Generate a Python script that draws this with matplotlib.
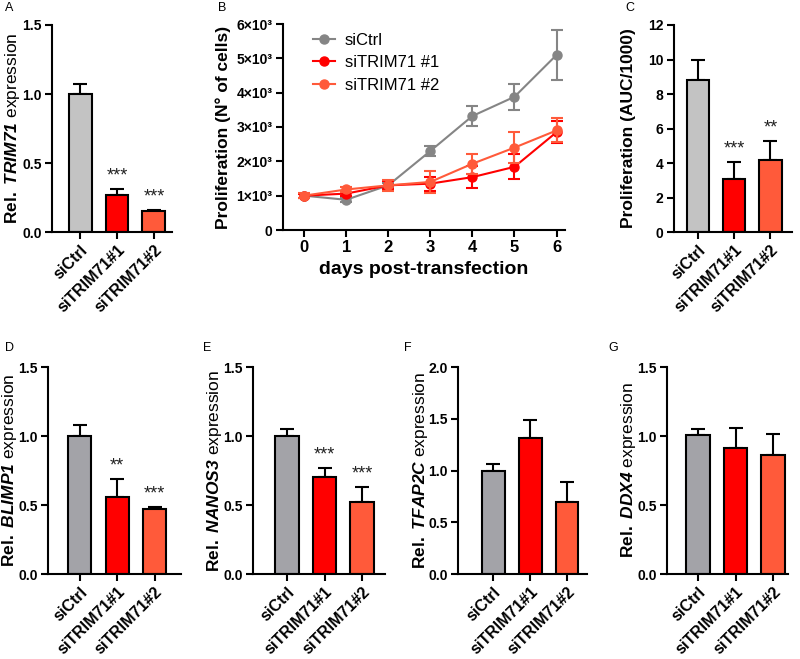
import matplotlib
matplotlib.use("Agg")
import matplotlib.pyplot as plt
import numpy as np

plt.rcParams['font.family'] = ['Liberation Sans', 'DejaVu Sans']
plt.rcParams['mathtext.fontset'] = 'custom'
plt.rcParams['mathtext.rm'] = 'Liberation Sans:italic:bold'
plt.rcParams['mathtext.it'] = 'Liberation Sans:italic:bold'
plt.rcParams['mathtext.bf'] = 'Liberation Sans:bold'

# ---------------- data ----------------
groups = ["siCtrl", "siTRIM71#1", "siTRIM71#2"]

trim71_mean = [1.00, 0.27, 0.15]
trim71_err = [0.07, 0.04, 0.01]
trim71_sig = ["", "***", "***"]

days = [0, 1, 2, 3, 4, 5, 6]
prolif_ctrl = [1000, 880, 1300, 2300, 3320, 3880, 5100]
prolif_ctrl_err = [60, 50, 80, 150, 280, 380, 720]
prolif_si1 = [1000, 1060, 1300, 1350, 1540, 1840, 2850]
prolif_si1_err = [60, 60, 120, 200, 320, 360, 330]
prolif_si2 = [1000, 1180, 1300, 1400, 1930, 2400, 2900]
prolif_si2_err = [80, 60, 150, 310, 290, 460, 350]
series_names = ["siCtrl", "siTRIM71 #1", "siTRIM71 #2"]
b_ticks = [0, 1000, 2000, 3000, 4000, 5000, 6000]
b_ticklabels = ["0", "1×10³", "2×10³", "3×10³", "4×10³", "5×10³", "6×10³"]

auc_mean = [8.8, 3.05, 4.15]
auc_err = [1.15, 1.0, 1.1]
auc_sig = ["", "***", "**"]

blimp1_mean = [1.00, 0.555, 0.47]
blimp1_err = [0.08, 0.13, 0.015]
blimp1_sig = ["", "**", "***"]

nanos3_mean = [1.00, 0.70, 0.52]
nanos3_err = [0.05, 0.065, 0.11]
nanos3_sig = ["", "***", "***"]

tfap2c_mean = [1.00, 1.31, 0.70]
tfap2c_err = [0.065, 0.18, 0.19]
tfap2c_sig = ["", "", ""]

ddx4_mean = [1.01, 0.915, 0.865]
ddx4_err = [0.04, 0.14, 0.15]
ddx4_sig = ["", "", ""]

# ---------------- style ----------------
W, H = 800, 659
fig = plt.figure(figsize=(W / 100, H / 100), dpi=100)

RED = "#FF0000"
ORANGE = "#FF5A3A"
GRAY_LIGHT = "#C3C3C3"
GRAY_DARK = "#A3A3A8"
GRAY_LINE = "#858585"
LW = 1.5


def px_axes(x0, x1, ytop, ybot):
    return fig.add_axes([x0 / W, 1 - ybot / H, (x1 - x0) / W, (ybot - ytop) / H])


def letter(x, y, s):
    fig.text(x / W, 1 - y / H, s, fontsize=9, ha="left", va="center")


def style(ax, ysize=10):
    for s in ["top", "right"]:
        ax.spines[s].set_visible(False)
    for s in ["left", "bottom"]:
        ax.spines[s].set_linewidth(LW)
    ax.tick_params(width=LW, length=5, pad=2.5)
    ax.tick_params(axis="y", labelsize=ysize)
    for lab in ax.get_yticklabels():
        lab.set_fontweight("bold")


def gene_label(gene):
    return r"$\mathbf{Rel.}$ $\mathrm{" + gene + r"}$ expression"


def bar_panel(x0, x1, ytop, ybot, xlim, means, errs, sigs, ctrl_color,
              ylim, yticks, yfmt, ylabel, ylabel_weight="normal", ylabel_size=12.5,
              label_dx=38):
    ax = px_axes(x0, x1, ytop, ybot)
    x = np.arange(len(groups))
    colors = [ctrl_color, RED, ORANGE]
    ax.bar(x, means, width=0.62, color=colors, edgecolor="black",
           linewidth=LW, zorder=2)
    ax.errorbar(x, means, yerr=[np.zeros(len(errs)), errs], fmt="none",
                ecolor="black", elinewidth=LW, capsize=5, capthick=LW, zorder=1)
    for xi, m, e, s in zip(x, means, errs, sigs):
        if s:
            ax.annotate(s, (xi, m + e), xytext=(0, 3.5), textcoords="offset points",
                        ha="center", va="bottom", fontsize=13, color="#222222")
    ax.set_xlim(*xlim)
    ax.set_ylim(*ylim)
    ax.set_yticks(yticks)
    ax.set_yticklabels([yfmt.format(v) for v in yticks])
    ax.set_xticks(x)
    ax.set_xticklabels(groups, rotation=45, ha="right", rotation_mode="anchor",
                       fontweight="bold", fontsize=11.5)
    ax.set_ylabel(ylabel, fontsize=ylabel_size, fontweight=ylabel_weight,
                  va="center", ha="center")
    ax.yaxis.set_label_coords(-label_dx / (x1 - x0), 0.5)
    style(ax)
    return ax


TOP = (25, 232)
BOT = (367, 574)

bar_panel(52, 172, *TOP, (-0.76, 2.49), trim71_mean, trim71_err, trim71_sig,
          GRAY_LIGHT, (0, 1.5), [0, 0.5, 1.0, 1.5], "{:.1f}",
          gene_label("TRIM71"), label_dx=39)

bar_panel(674, 792, *TOP, (-0.67, 2.6), auc_mean, auc_err, auc_sig,
          GRAY_LIGHT, (0, 12), [0, 2, 4, 6, 8, 10, 12], "{:d}",
          "Proliferation (AUC/1000)", "bold", 12.5, 45)

bar_panel(48, 181, *BOT, (-0.85, 2.7), blimp1_mean, blimp1_err, blimp1_sig,
          GRAY_DARK, (0, 1.5), [0, 0.5, 1.0, 1.5], "{:.1f}",
          gene_label("BLIMP1"), label_dx=38)

bar_panel(253, 385, *BOT, (-0.91, 2.61), nanos3_mean, nanos3_err, nanos3_sig,
          GRAY_DARK, (0, 1.5), [0, 0.5, 1.0, 1.5], "{:.1f}",
          gene_label("NANOS3"))

bar_panel(458, 587, *BOT, (-0.95, 2.54), tfap2c_mean, tfap2c_err, tfap2c_sig,
          GRAY_DARK, (0, 2.0), [0, 0.5, 1.0, 1.5, 2.0], "{:.1f}",
          gene_label("TFAP2C"))

bar_panel(667, 788, *BOT, (-0.83, 2.4), ddx4_mean, ddx4_err, ddx4_sig,
          GRAY_DARK, (0, 1.5), [0, 0.5, 1.0, 1.5], "{:.1f}",
          gene_label("DDX4"))

# ---------------- panel B ----------------
axb = px_axes(283, 565, 24, 230)
handles = []
for vals, errs, col, name in [(prolif_ctrl, prolif_ctrl_err, GRAY_LINE, series_names[0]),
                              (prolif_si1, prolif_si1_err, RED, series_names[1]),
                              (prolif_si2, prolif_si2_err, ORANGE, series_names[2])]:
    axb.errorbar(days, vals, yerr=errs, fmt="none", ecolor=col,
                 elinewidth=LW, capsize=4, capthick=LW)
    ln, = axb.plot(days, vals, color=col, marker="o", markersize=6.5,
                   linewidth=LW, label=name)
    handles.append(ln)
axb.set_xlim(-0.5, 6.2)
axb.set_ylim(0, 6000)
axb.set_xticks(days)
axb.set_xticklabels([str(d) for d in days], fontweight="bold")
axb.set_yticks(b_ticks)
axb.set_yticklabels(b_ticklabels)
axb.set_xlabel("days post-transfection", fontsize=14, fontweight="bold", labelpad=4)
axb.set_ylabel("Proliferation (N° of cells)", fontsize=12.5, fontweight="bold", labelpad=4)
style(axb)
axb.tick_params(axis="x", labelsize=12)
axb.legend(handles=handles, loc="upper left", bbox_to_anchor=(0.053, 1.03),
           frameon=False, fontsize=12, handlelength=1.3, handletextpad=0.6,
           labelspacing=0.45)

letter(5, 8, "A")
letter(218, 8, "B")
letter(625, 8, "C")
letter(5, 348, "D")
letter(203, 348, "E")
letter(404, 348, "F")
letter(608, 348, "G")

fig.savefig("out.png", dpi=100)
